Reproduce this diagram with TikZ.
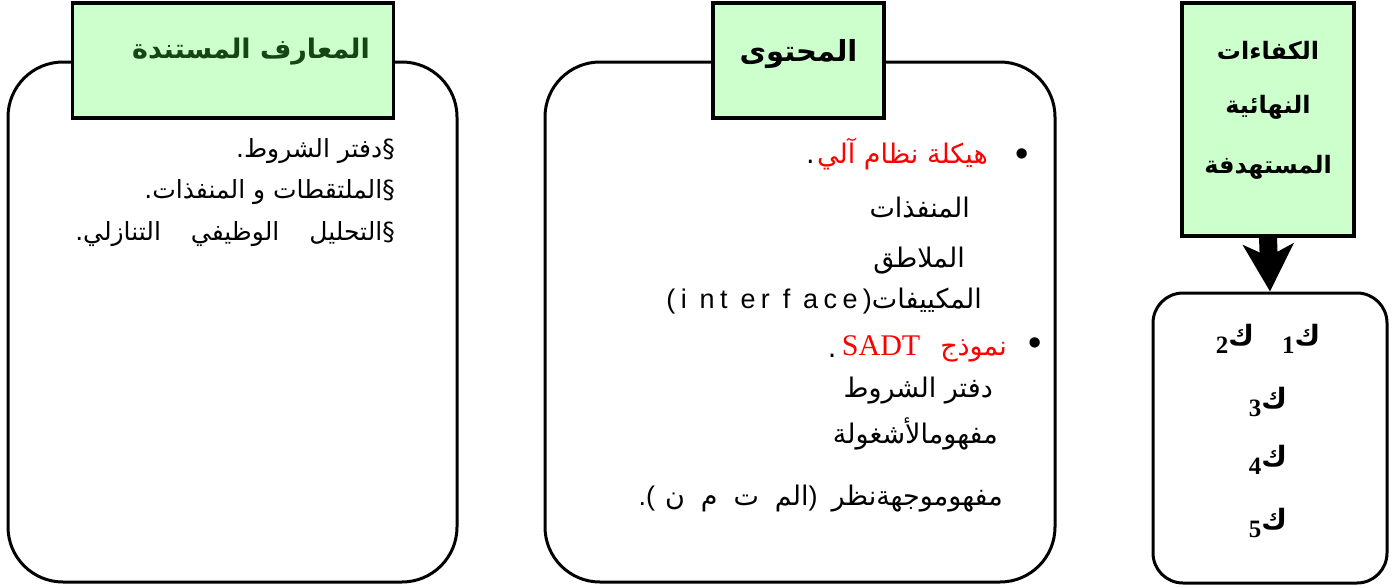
\documentclass[tikz,border=0pt]{standalone}
\usepackage{fontspec}
\setmainfont{Liberation Sans}
\newfontfamily\ar[Script=Arabic]{DejaVu Sans}
\newfontfamily\tnr{Liberation Serif}
\newfontfamily\lsp[LetterSpace=20]{Liberation Sans}
\usetikzlibrary{arrows.meta}
\TeXXeTstate=1
\definecolor{hgreen}{RGB}{204,255,204}
\definecolor{tgreen}{RGB}{20,70,20}
\definecolor{ared}{RGB}{255,0,0}
\tikzset{
  rbox/.style={draw, line width=3pt, rectangle, inner sep=0pt},
  hbox/.style={draw, line width=3.5pt, fill=hgreen, rectangle, inner sep=0pt},
  lbody/.style={inner sep=0pt, anchor=base east, font=\ar\fontsize{25}{30}\selectfont},
  body/.style={inner sep=0pt, anchor=base east, font=\ar\fontsize{27}{32}\selectfont},
  ttl/.style={inner sep=0pt, font=\ar\bfseries\fontsize{24}{28}\selectfont},
  bul/.style={inner sep=0pt, font=\fontsize{38}{40}\selectfont},
  kitem/.style={inner sep=0pt, anchor=base, font=\ar\bfseries\fontsize{28}{32}\selectfont}
}
\newcommand{\dig}[1]{\lower8pt\hbox{\tnr\bfseries\fontsize{25}{28}\selectfont #1}}
\begin{document}
\begin{tikzpicture}[x=1pt,y=-1pt]
\useasboundingbox (0,0) rectangle (1395,587);
% left panel
\node[rbox, rounded corners=55pt, minimum width=449pt, minimum height=520pt] (lbox) at (232.5,322) {};
\node[hbox, minimum width=321pt, minimum height=115pt] (lhead) at (233,60.5) {};
\node[ttl, text=tgreen, font=\ar\bfseries\fontsize{27}{32}\selectfont] (ltitle) at (251,52) {\beginR المعارف المستندة\endR};
\node[lbody] (l1) at (395,157) {\beginR §دفتر الشروط.\endR};
\node[lbody] (l2) at (395,198) {\beginR §الملتقطات و المنفذات.\endR};
\node[lbody] (l3) at (395,240) {\beginR §التحليل\hspace{22pt} الوظيفي\hspace{22pt} التنازلي.\endR};
% middle panel
\node[rbox, rounded corners=55pt, minimum width=510pt, minimum height=520pt] (mbox) at (800,322) {};
\node[hbox, minimum width=171pt, minimum height=115pt] (mhead) at (798.5,60.5) {};
\node[ttl, font=\ar\bfseries\fontsize{29}{34}\selectfont] (mtitle) at (798.5,54) {\beginR المحتوى\endR};
\node[bul] (b1) at (1022,158) {•};
\node[body, text=ared] (m1) at (988,163) {\beginR هيكلة نظام آلي\endR};
\node[body] (m1p) at ([xshift=-2pt]m1.base west) {.};
\node[body] (m2) at (970,217) {\beginR المنفذات\endR};
\node[body] (m3) at (965,267) {\beginR الملاطق\endR};
\node[body] (m4) at (982,308) {{\lsp (i nt er f ace)}\beginR المكييفات\endR};
\node[bul] (b2) at (1035,347) {•};
\node[body, text=ared] (m5) at (1007,355) {\beginR نموذج\hspace{20pt}\beginL{\tnr\fontsize{30}{34}\selectfont SADT}\endL\endR};
\node[body] (m5p) at ([xshift=-5pt,yshift=-2pt]m5.base west) {.};
\node[body] (m6) at (993,397) {\beginR دفتر الشروط\endR};
\node[body] (m7) at (998,443) {\beginR مفهومالأشغولة\endR};
\node[body] (m8) at (1003,505) {{\rmfamily .(}\hspace{10pt}\beginR الم\hspace{16pt}ت\hspace{16pt}م\hspace{16pt}ن\endR{\rmfamily )}\hspace{14pt}\beginR مفهوموجهةنظر\endR};
% right panel
\node[hbox, minimum width=172pt, minimum height=233pt] (khead) at (1268,119.5) {};
\node[ttl] (kt1) at (1268,50) {\beginR الكفاءات\endR};
\node[ttl] (kt2) at (1268,107) {\beginR النهائية\endR};
\node[ttl] (kt3) at (1268,167) {\beginR المستهدفة\endR};
\node[rbox, rounded corners=30pt, minimum width=234pt, minimum height=290pt] (kbox) at (1270,438) {};
\draw[line width=18pt, -{Stealth[length=47pt,width=50pt,inset=12pt]}] (khead.south) -- (kbox.north);
\node[kitem] (k12) at (1268,345) {\beginR ك\dig{1}\quad ك\dig{2}\endR};
\node[kitem] (k3) at (1268,408) {\beginR ك\dig{3}\endR};
\node[kitem] (k4) at (1268,466) {\beginR ك\dig{4}\endR};
\node[kitem] (k5) at (1268,529) {\beginR ك\dig{5}\endR};
\end{tikzpicture}
\end{document}
